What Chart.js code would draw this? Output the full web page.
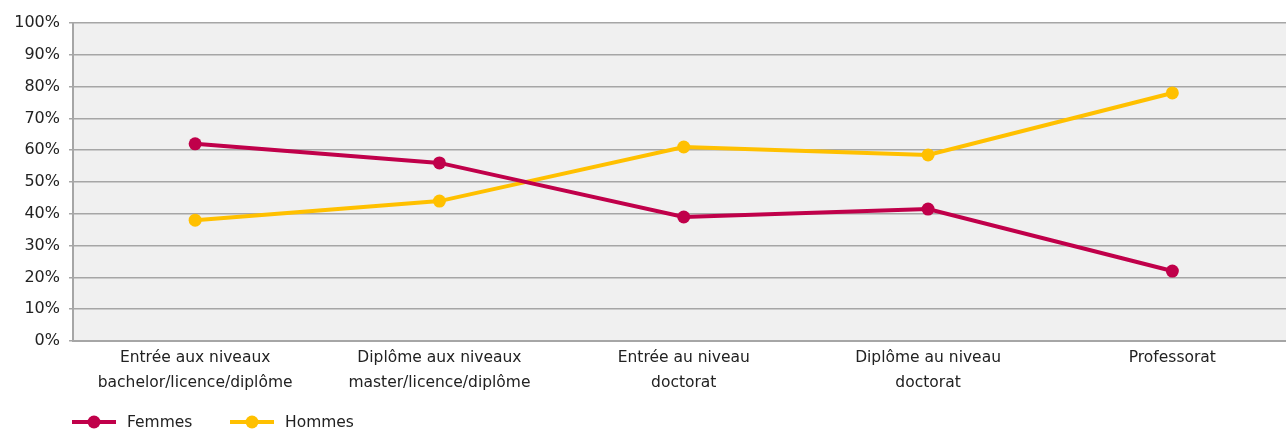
<!DOCTYPE html>
<html lang="fr">
<head>
<meta charset="utf-8">
<title>Femmes et hommes par niveau</title>
<script src="https://cdn.jsdelivr.net/npm/chart.js@4/dist/chart.umd.min.js"></script>
<style>
  html, body { margin: 0; padding: 0; background: #ffffff; overflow: hidden; }
  #wrap { position: relative; width: 1301px; height: 430px; }
</style>
</head>
<body>
<div id="wrap"><canvas id="chart" width="1301" height="430"></canvas></div>
<script>
const categories = [
  ['Entrée aux niveaux', 'bachelor/licence/diplôme'],
  ['Diplôme aux niveaux', 'master/licence/diplôme'],
  ['Entrée au niveau', 'doctorat'],
  ['Diplôme au niveau', 'doctorat'],
  'Professorat'
];
const femmes = [62, 56, 39, 41.5, 22];
const hommes = [38, 44, 61, 58.5, 78];
const yTicks = [0, 10, 20, 30, 40, 50, 60, 70, 80, 90, 100];

const FONT = '"DejaVu Sans", "Open Sans", sans-serif';
const TEXT = '#222222';
const GRID = '#a6a6a6';

// plot background
const plotBackground = {
  id: 'plotBackground',
  beforeDraw(chart) {
    const { ctx, chartArea: a } = chart;
    ctx.save();
    ctx.fillStyle = '#f0f0f0';
    ctx.fillRect(a.left, a.top, a.right - a.left, a.bottom - a.top);
    ctx.restore();
  }
};

// legend below the axis: line segment with a dot, then the series name
const lineLegend = {
  id: 'lineLegend',
  afterDraw(chart) {
    const { ctx } = chart;
    const y = 422;
    const starts = [72, 230];
    ctx.save();
    chart.data.datasets.forEach((ds, i) => {
      const x = starts[i];
      ctx.strokeStyle = ds.borderColor;
      ctx.lineWidth = 4;
      ctx.beginPath();
      ctx.moveTo(x, y);
      ctx.lineTo(x + 44, y);
      ctx.stroke();
      ctx.fillStyle = ds.borderColor;
      ctx.beginPath();
      ctx.arc(x + 22, y, 6.5, 0, Math.PI * 2);
      ctx.fill();
      ctx.fillStyle = TEXT;
      ctx.font = '15.5px ' + FONT;
      ctx.textBaseline = 'middle';
      ctx.textAlign = 'left';
      ctx.fillText(ds.label, x + 55, y + 1);
    });
    ctx.restore();
  }
};

new Chart(document.getElementById('chart'), {
  type: 'line',
  data: {
    labels: categories,
    datasets: [
      {
        label: 'Femmes',
        data: femmes,
        borderColor: '#c0004a',
        backgroundColor: '#c0004a',
        borderWidth: 4,
        pointRadius: 6.5,
        pointHoverRadius: 6.5,
        pointBorderWidth: 0,
        tension: 0
      },
      {
        label: 'Hommes',
        data: hommes,
        borderColor: '#ffc000',
        backgroundColor: '#ffc000',
        borderWidth: 4,
        pointRadius: 6.5,
        pointHoverRadius: 6.5,
        pointBorderWidth: 0,
        tension: 0
      }
    ]
  },
  options: {
    responsive: false,
    animation: false,
    layout: { padding: { top: 23, right: 0, bottom: 0, left: 1 } },
    plugins: {
      legend: { display: false },
      tooltip: { enabled: false }
    },
    scales: {
      x: {
        offset: true,
        grid: { display: false, drawTicks: false },
        border: { display: true, color: GRID, width: 2 },
        ticks: {
          color: TEXT,
          font: { family: FONT, size: 15.5, lineHeight: 1.6 },
          padding: 5,
          maxRotation: 0,
          autoSkip: false
        },
        afterFit(scale) { scale.height = 89; }
      },
      y: {
        min: 0,
        max: 100,
        afterBuildTicks(scale) { scale.ticks = yTicks.map(v => ({ value: v })); },
        grid: { color: GRID, lineWidth: 1.5, tickLength: 4, tickColor: GRID },
        border: { display: true, color: GRID, width: 2 },
        ticks: {
          color: TEXT,
          font: { family: FONT, size: 16 },
          padding: 9,
          callback: v => v + '%'
        },
        afterFit(scale) { scale.width = 72; }
      }
    }
  },
  plugins: [plotBackground, lineLegend]
});
</script>
</body>
</html>
